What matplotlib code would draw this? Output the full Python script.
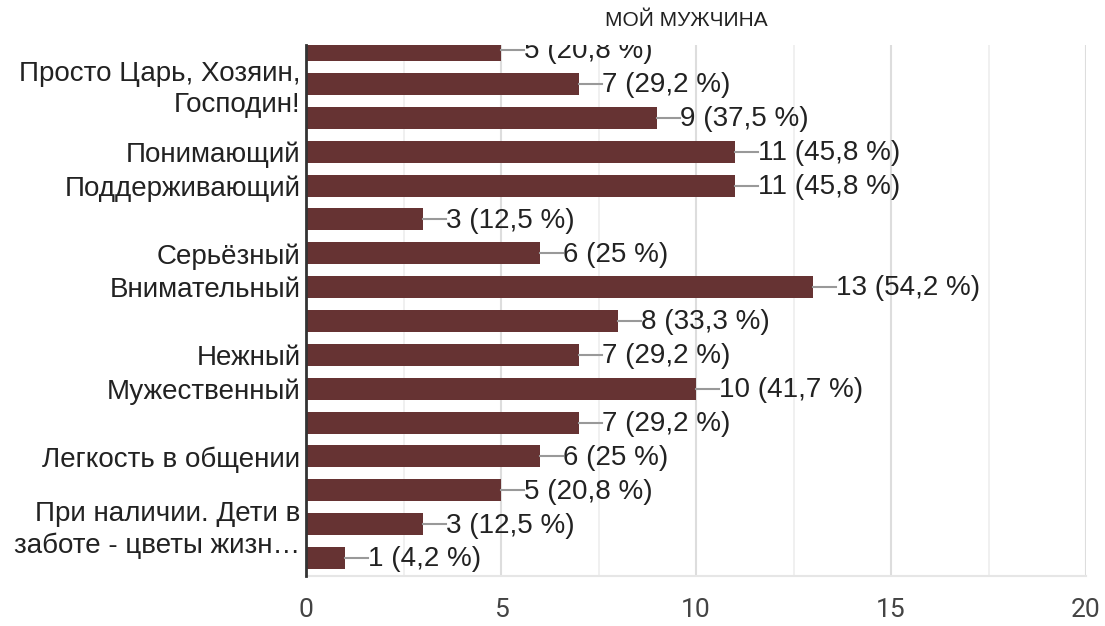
import numpy as np
import matplotlib
matplotlib.use('Agg')
import matplotlib.pyplot as plt

plt.rcParams['font.family'] = ['Liberation Sans', 'DejaVu Sans']

# данные
labels = ['', 'Просто Царь, Хозяин,\nГосподин!', '', 'Понимающий', 'Поддерживающий', '',
          'Серьёзный', 'Внимательный', '', 'Нежный', 'Мужественный', '',
          'Легкость в общении', '', 'При наличии. Дети в\nзаботе - цветы жизн…', '']
counts = [5, 7, 9, 11, 11, 3, 6, 13, 8, 7, 10, 7, 6, 5, 3, 1]
percents = ['20,8', '29,2', '37,5', '45,8', '45,8', '12,5', '25', '54,2', '33,3',
            '29,2', '41,7', '29,2', '25', '20,8', '12,5', '4,2']

fig = plt.figure(figsize=(11.05, 6.26), dpi=100)
ax = fig.add_axes([306 / 1105, 1 - 576 / 626, 780 / 1105, 531 / 626])

y = np.arange(len(counts))
ax.barh(y, counts, height=0.65, color='#663333', zorder=3)

for i, c in enumerate(counts):
    ax.plot([c, c + 0.6], [i, i], color='#999999', lw=1.5, zorder=3)
    ax.text(c + 0.6, i + 0.04, '%d (%s %%)' % (c, percents[i]), va='center', ha='left',
            fontsize=20, color='#222222', zorder=4, clip_on=True)

ax.set_xlim(0, 20)
ax.set_ylim(15.53, -0.15)
ax.set_xticks([0, 5, 10, 15, 20])
ax.set_xticks([2.5, 7.5, 12.5, 17.5], minor=True)
ax.grid(axis='x', which='major', color='#dddddd', lw=1.5, zorder=0)
ax.grid(axis='x', which='minor', color='#eeeeee', lw=1.2, zorder=0)
ax.tick_params(axis='x', which='both', length=0, pad=16, labelsize=19, labelcolor='#444444')
for t in ax.get_xticklabels():
    t.set_family(['Roboto'])

ax.set_yticks(y)
ax.set_yticklabels(labels, fontsize=20, color='#222222', linespacing=1.25)
ax.tick_params(axis='y', length=0, pad=4)
for t in ax.get_yticklabels():
    if '\n' in t.get_text():
        t.set_y(t.get_position()[1])
        t.set_va('center_baseline')

for s in ['top', 'right']:
    ax.spines[s].set_visible(False)
ax.spines['bottom'].set_color('#e6e6e6')
ax.spines['bottom'].set_linewidth(1.5)
ax.spines['left'].set_color('#333333')
ax.spines['left'].set_linewidth(2)
ax.spines['left'].set_zorder(5)

fig.text(686 / 1105, 1 - 20 / 626, 'МОЙ МУЖЧИНА', ha='center', va='center',
         fontsize=15, color='#222222')

fig.savefig('out.png', dpi=100)
